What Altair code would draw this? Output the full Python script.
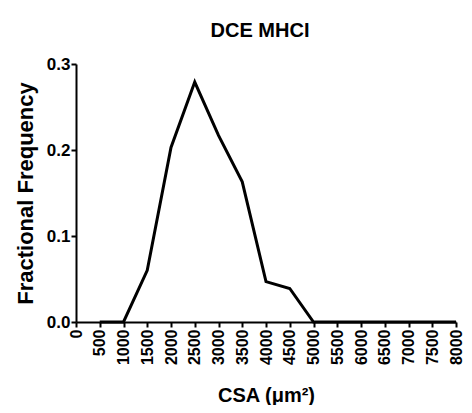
import altair as alt
import pandas as pd

csa = [500, 1000, 1500, 2000, 2500, 3000, 3500, 4000, 4500, 5000, 5500, 6000, 6500, 7000, 7500, 8000]
freq = [0.0, 0.0, 0.06, 0.203, 0.279, 0.217, 0.163, 0.047, 0.039, 0.0, 0.0, 0.0, 0.0, 0.0, 0.0, 0.0]
x_ticks = list(range(0, 8001, 500))
y_ticks = [0.0, 0.1, 0.2, 0.3]

df = pd.DataFrame({"csa": csa, "freq": freq})

font = "Liberation Sans"

chart = alt.Chart(df).mark_line(color="black", strokeWidth=3, strokeJoin="miter").encode(
    x=alt.X("csa:Q", scale=alt.Scale(domain=[0, 8000], nice=False, zero=True),
            axis=alt.Axis(values=x_ticks, format="d", labelAngle=-90, title="CSA (μm²)", grid=False,
                          labelFont=font, labelFontWeight="bold", labelFontSize=16, labelColor="black",
                          titleFont=font, titleFontWeight="bold", titleFontSize=20, titleColor="black",
                          domainColor="black", domainWidth=2, tickColor="black", tickWidth=2, tickSize=5,
                          labelPadding=2, titlePadding=21, labelFlush=False, labelOverlap=False)),
    y=alt.Y("freq:Q", scale=alt.Scale(domain=[0, 0.3], nice=False),
            axis=alt.Axis(values=y_ticks, format=".1f", title="Fractional  Frequency", grid=False,
                          labelFont=font, labelFontWeight="bold", labelFontSize=17, labelColor="black",
                          titleFont=font, titleFontWeight="bold", titleFontSize=22, titleColor="black",
                          domainColor="black", domainWidth=2, tickColor="black", tickWidth=2, tickSize=5,
                          labelPadding=1, titlePadding=9, labelFlush=False)),
).properties(
    width=380, height=258,
    title=alt.TitleParams("DCE  MHCI", font=font, fontWeight="bold", fontSize=20, color="black",
                          offset=14, dx=-6),
    autosize=alt.AutoSizeParams(type="none"),
    padding={"left": 68, "top": 56, "right": 8, "bottom": 83},
).configure_view(stroke=None)

chart.save("out.html", embed_options={"renderer": "svg", "actions": False})
